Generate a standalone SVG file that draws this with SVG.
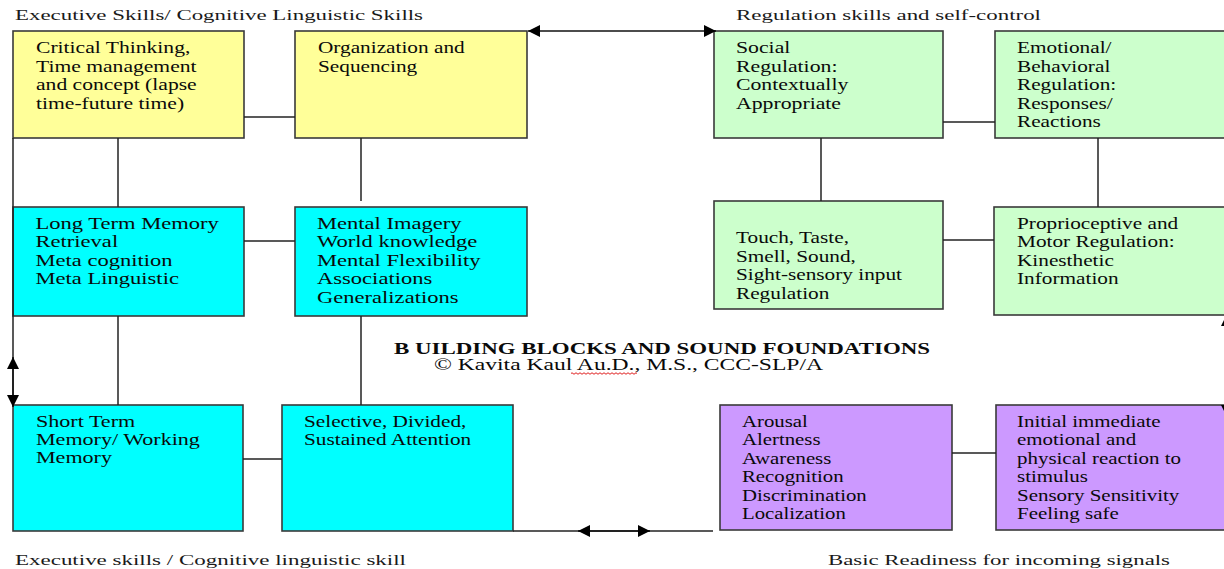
<svg xmlns="http://www.w3.org/2000/svg" width="1224" height="569" viewBox="0 0 1224 569">
<style>
text{font-family:"Liberation Serif","Times New Roman",serif;font-size:16px;fill:#0a0a0a}
.hd{font-size:15px;fill:#1a1a1a}
.bold{font-weight:bold;font-size:16px}
.box{stroke:#3a3a3a;stroke-width:1.6}
.y{fill:#FFFF99}.c{fill:#00FFFF}.g{fill:#CCFFCC}.p{fill:#CC99FF}
.ln{stroke:#222;stroke-width:1.5;fill:none}
.ar{stroke:#111;stroke-width:1.5;fill:none;marker-start:url(#ah);marker-end:url(#ah)}
</style>
<defs>
<marker id="ah" viewBox="0 0 12 12" refX="12" refY="6" markerWidth="12" markerHeight="12" markerUnits="userSpaceOnUse" orient="auto-start-reverse">
<path d="M0,0 L12,6 L0,12 z" fill="#000"/>
</marker>
</defs>
<rect width="1224" height="569" fill="#fff"/>

<g id="headings">
<text class="hd" x="15" y="20" textLength="408" lengthAdjust="spacingAndGlyphs">Executive Skills/ Cognitive Linguistic Skills</text>
<text class="hd" x="736" y="20" textLength="305" lengthAdjust="spacingAndGlyphs">Regulation skills and self-control</text>
<text class="hd" x="15" y="565" textLength="391" lengthAdjust="spacingAndGlyphs">Executive skills / Cognitive linguistic skill</text>
<text class="hd" x="828" y="565" textLength="342" lengthAdjust="spacingAndGlyphs">Basic Readiness for incoming signals</text>
<text class="bold" x="394" y="354" textLength="536" lengthAdjust="spacingAndGlyphs">B UILDING BLOCKS AND SOUND FOUNDATIONS</text>
<text x="434" y="370" textLength="389" lengthAdjust="spacingAndGlyphs">© Kavita Kaul Au.D., M.S., CCC-SLP/A</text>
<path d="M571,373.5 q1,-1.5 2,0 t2,0 t2,0 t2,0 t2,0 t2,0 t2,0 t2,0 t2,0 t2,0 t2,0 t2,0 t2,0 t2,0 t2,0 t2,0 t2,0 t2,0 t2,0 t2,0 t2,0 t2,0 t2,0 t2,0 t2,0 t2,0 t2,0 t2,0 t2,0 t2,0 t2,0 t2,0 t2,0" fill="none" stroke="#e02020" stroke-width="1"/>
</g>

<g id="node-critical">
<rect class="box y" x="13" y="31" width="231" height="107"/>
<g transform="translate(36 0) scale(1.35 1)">
<text x="0" y="53.5">Critical Thinking,</text>
<text x="0" y="72">Time management</text>
<text x="0" y="90.5">and concept (lapse</text>
<text x="0" y="109">time-future time)</text>
</g>
</g>

<g id="node-organization">
<rect class="box y" x="295" y="31" width="232" height="107"/>
<g transform="translate(318 0) scale(1.33 1)">
<text x="0" y="53.5">Organization and</text>
<text x="0" y="72">Sequencing</text>
</g>
</g>

<g id="node-social">
<rect class="box g" x="714" y="31" width="229" height="107"/>
<g transform="translate(736 0) scale(1.36 1)">
<text x="0" y="53.5">Social</text>
<text x="0" y="72">Regulation:</text>
<text x="0" y="90.5">Contextually</text>
<text x="0" y="109">Appropriate</text>
</g>
</g>

<g id="node-emotional">
<rect class="box g" x="995" y="31" width="236" height="107"/>
<g transform="translate(1017 0) scale(1.33 1)">
<text x="0" y="53.5">Emotional/</text>
<text x="0" y="72">Behavioral</text>
<text x="0" y="90.5">Regulation:</text>
<text x="0" y="109">Responses/</text>
<text x="0" y="127.5">Reactions</text>
</g>
</g>

<g id="node-ltm">
<rect class="box c" x="13" y="207" width="231" height="109"/>
<g transform="translate(35.5 0) scale(1.41 1)">
<text x="0" y="229">Long Term Memory</text>
<text x="0" y="247.5">Retrieval</text>
<text x="0" y="266">Meta cognition</text>
<text x="0" y="284.5">Meta Linguistic</text>
</g>
</g>

<g id="node-mental">
<rect class="box c" x="295" y="207" width="232" height="109"/>
<g transform="translate(317 0) scale(1.41 1)">
<text x="0" y="229">Mental Imagery</text>
<text x="0" y="247.5">World knowledge</text>
<text x="0" y="266">Mental Flexibility</text>
<text x="0" y="284.5">Associations</text>
<text x="0" y="303">Generalizations</text>
</g>
</g>

<g id="node-touch">
<rect class="box g" x="714" y="201" width="229" height="108"/>
<g transform="translate(736 0) scale(1.33 1)">
<text x="0" y="243.5">Touch, Taste,</text>
<text x="0" y="262">Smell, Sound,</text>
<text x="0" y="280.5">Sight-sensory input</text>
<text x="0" y="299">Regulation</text>
</g>
</g>

<g id="node-proprioceptive">
<rect class="box g" x="994" y="207" width="237" height="108"/>
<g transform="translate(1017 0) scale(1.33 1)">
<text x="0" y="229">Proprioceptive and</text>
<text x="0" y="247.5">Motor Regulation:</text>
<text x="0" y="266">Kinesthetic</text>
<text x="0" y="284.5">Information</text>
</g>
</g>

<g id="node-stm">
<rect class="box c" x="13" y="405" width="230" height="126"/>
<g transform="translate(36 0) scale(1.38 1)">
<text x="0" y="427">Short Term</text>
<text x="0" y="445">Memory/ Working</text>
<text x="0" y="463.5">Memory</text>
</g>
</g>

<g id="node-attention">
<rect class="box c" x="282" y="405" width="231" height="126"/>
<g transform="translate(304 0) scale(1.33 1)">
<text x="0" y="427">Selective, Divided,</text>
<text x="0" y="445">Sustained Attention</text>
</g>
</g>

<g id="node-arousal">
<rect class="box p" x="720" y="405" width="232" height="125"/>
<g transform="translate(742 0) scale(1.3 1)">
<text x="0" y="427">Arousal</text>
<text x="0" y="445.5">Alertness</text>
<text x="0" y="464">Awareness</text>
<text x="0" y="482.5">Recognition</text>
<text x="0" y="501">Discrimination</text>
<text x="0" y="519.5">Localization</text>
</g>
</g>

<g id="node-initial">
<rect class="box p" x="996" y="405" width="235" height="125"/>
<g transform="translate(1017 0) scale(1.31 1)">
<text x="0" y="427">Initial immediate</text>
<text x="0" y="445.5">emotional and</text>
<text x="0" y="464">physical reaction to</text>
<text x="0" y="482.5">stimulus</text>
<text x="0" y="501">Sensory Sensitivity</text>
<text x="0" y="519.5">Feeling safe</text>
</g>
</g>

<g id="connectors">
<line class="ln" x1="244" y1="117" x2="295" y2="117"/>
<line class="ln" x1="244" y1="241" x2="295" y2="241"/>
<line class="ln" x1="243" y1="459" x2="282" y2="459"/>
<line class="ln" x1="118" y1="138" x2="118" y2="207"/>
<line class="ln" x1="361" y1="138" x2="361" y2="201"/>
<line class="ln" x1="118" y1="316" x2="118" y2="405"/>
<line class="ln" x1="361" y1="316" x2="361" y2="405"/>
<line class="ln" x1="13" y1="138" x2="13" y2="405"/>
<line class="ar" x1="13" y1="357" x2="13" y2="407"/>
<line class="ar" x1="528" y1="31" x2="716" y2="31"/>
<line class="ln" x1="943" y1="122" x2="995" y2="122"/>
<line class="ln" x1="821" y1="138" x2="821" y2="201"/>
<line class="ln" x1="1098" y1="138" x2="1098" y2="207"/>
<line class="ln" x1="943" y1="240" x2="994" y2="240"/>
<line class="ln" x1="952" y1="453" x2="996" y2="453"/>
<line class="ln" x1="513" y1="531" x2="713" y2="531"/>
<line class="ar" x1="578" y1="531" x2="650" y2="531"/>
<line class="ar" x1="1227" y1="314" x2="1227" y2="417"/>
</g>
</svg>
